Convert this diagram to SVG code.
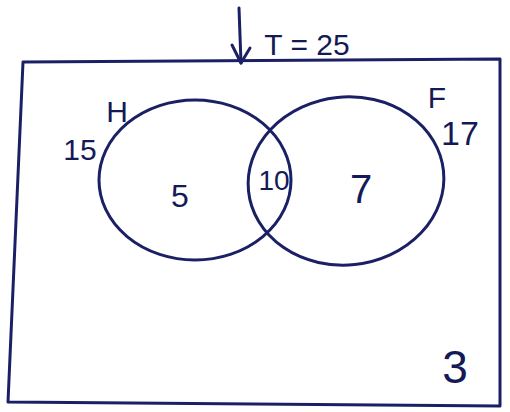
<svg xmlns="http://www.w3.org/2000/svg" width="510" height="412" viewBox="0 0 510 412">
<style>
.ln{fill:none;stroke:#1b2064;stroke-width:3;stroke-linecap:round;stroke-linejoin:round}
.t{font-family:"Liberation Sans",Arial,sans-serif;fill:#141a55;text-anchor:middle}
</style>
<rect width="510" height="412" fill="#ffffff"/>
<g id="universe">
<path class="ln" d="M23,62 L500,59 L500,406 L8,402 Z"/>
<text class="t" x="455" y="383" font-size="46">3</text>
</g>
<g id="total">
<text class="t" x="307" y="55" font-size="30">T = 25</text>
</g>
<g id="setH">
<ellipse class="ln" cx="195" cy="180" rx="96" ry="80"/>
<text class="t" x="117" y="122" font-size="30">H</text>
<text class="t" x="80" y="160" font-size="30">15</text>
<text class="t" x="180" y="207" font-size="32">5</text>
</g>
<g id="setF">
<ellipse class="ln" cx="346" cy="181" rx="98" ry="84" transform="rotate(-6 346 181)"/>
<text class="t" x="437" y="108" font-size="30">F</text>
<text class="t" x="460" y="145" font-size="34">17</text>
<text class="t" x="361" y="203" font-size="40">7</text>
</g>
<g id="intersection">
<text class="t" x="274" y="190" font-size="28">10</text>
</g>
<g id="connectors">
<path class="ln" d="M239,8 L241,63"/>
<path class="ln" d="M232,45 L241,63 L250,48"/>
</g>
</svg>
